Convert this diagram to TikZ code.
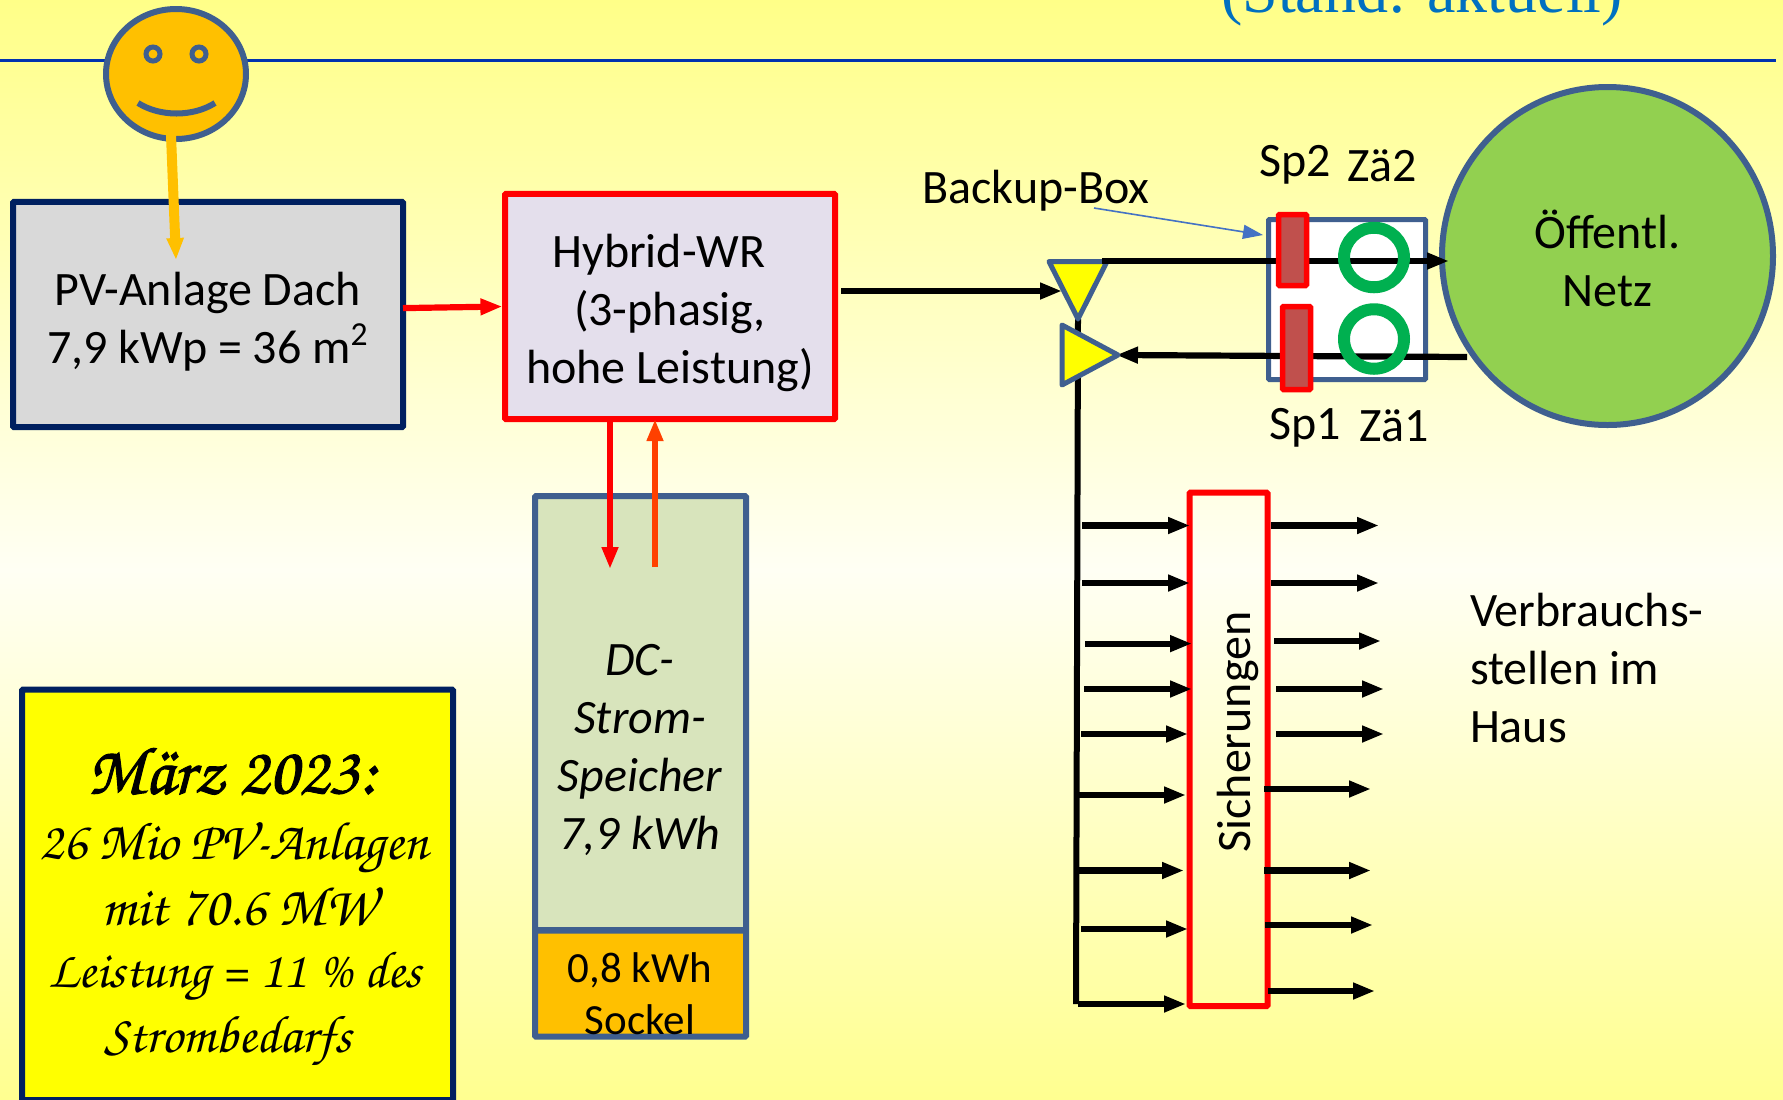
\documentclass[tikz,border=0pt]{standalone}
\usepackage[T1,TU]{fontenc}
\usepackage{fontspec}
\setmainfont{Carlito}
\newfontfamily\titlefont{Liberation Serif}
\usetikzlibrary{arrows.meta,shapes.geometric}
\definecolor{bgtop}{HTML}{FFFF88}
\definecolor{bgmid}{HTML}{FFFFF4}
\definecolor{bgbot}{HTML}{FFFF90}
\definecolor{navy}{HTML}{002060}
\definecolor{steel}{HTML}{3F5F8F}
\definecolor{rulecol}{HTML}{0033B0}
\definecolor{amber}{HTML}{FFC000}
\definecolor{wrfill}{HTML}{E4DFEC}
\definecolor{pvfill}{HTML}{D9D9D9}
\definecolor{dcfill}{HTML}{D8E4BC}
\definecolor{netfill}{HTML}{92D050}
\definecolor{ringcol}{HTML}{00B050}
\definecolor{spfill}{HTML}{C0504D}
\definecolor{titleblue}{HTML}{0070C0}
\definecolor{thinblue}{HTML}{4472C4}
\definecolor{orangered}{HTML}{FF4000}
\definecolor{brightyellow}{HTML}{FFFF00}
\definecolor{pure red}{HTML}{FF0000}
\newcommand{\scriptfnt}{\fontencoding{T1}\fontfamily{pzc}\fontseries{m}\fontshape{it}\selectfont}
\tikzset{
  x=0.5pt,y=-0.5pt,
  lbl/.style={inner sep=0pt,outer sep=0pt,align=center,text=black,font=\fontsize{24}{29}\selectfont},
  lblleft/.style={lbl,align=left},
  boxbase/.style={inner sep=0pt,outer sep=0pt,line width=3pt,rounded corners=0.5pt},
  blackarrow/.style={draw=black,line width=3.1pt,shorten >=-1pt,-{Triangle[length=11pt,width=7.8pt]}},
  redarrow/.style={draw=pure red,line width=3.1pt,-{Triangle[length=11pt,width=7.8pt]}},
  tri/.style={draw=steel,fill=brightyellow,line width=2.5pt,line join=round},
  ring/.style={ellipse,draw=ringcol,line width=6pt,inner sep=0pt,outer sep=0pt,minimum width=30pt,minimum height=29.75pt},
  scripttxt/.style={inner sep=0pt,outer sep=0pt,text=black}
}
\begin{document}
\begin{tikzpicture}
\useasboundingbox (0,0) rectangle (1783,1099);
\begin{scope}
\clip (0,0) rectangle (1783,1099);
\fill[top color=bgtop,bottom color=bgmid] (0,0) rectangle (1783,570);
\fill[top color=bgmid,bottom color=bgbot] (0,570) rectangle (1783,1099);
\node[anchor=base,inner sep=0pt,text=titleblue,font=\fontsize{32}{38}\selectfont\titlefont] (title) at (1422,12) {(Stand: aktuell)};

\coordinate (ruleL) at (0,60.5);
\coordinate (ruleR) at (1776,60.5);
\draw[rulecol,line width=1.4pt] (ruleL) -- (ruleR);

% smiley
\node[ellipse,draw=steel,fill=amber,line width=3pt,inner sep=0pt,outer sep=0pt,minimum width=70pt,minimum height=65pt] (sm) at (176,74) {};
\node[ellipse,draw=steel,line width=2.5pt,inner sep=0pt,outer sep=0pt,minimum width=7pt,minimum height=7pt] (eyeL) at (153,54) {};
\node[ellipse,draw=steel,line width=2.5pt,inner sep=0pt,outer sep=0pt,minimum width=7pt,minimum height=7pt] (eyeR) at (199,54) {};
\coordinate (smileL) at (138,103);
\coordinate (smileR) at (215,103);
\draw[steel,line width=3pt] (smileL) .. controls (160,117) and (193,117) .. (smileR);

% main boxes
\node[boxbase,draw=navy,fill=pvfill,minimum width=195pt,minimum height=112.6pt] (pv) at (208,314.5) {};
\node[lbl] (pvtxt) at (208,322) {PV-Anlage Dach\\7,9 kWp = 36 m\textsuperscript{2}};
\node[boxbase,draw=pure red,fill=wrfill,minimum width=165pt,minimum height=112.6pt] (wr) at (670,306.5) {};
\node[lbl] (wrtxt) at (670,313) {Hybrid-WR\hspace*{11pt}\\(3-phasig,\\hohe Leistung)};

\coordinate (pvtip) at (176,260);
\draw[amber,line width=5pt,-{Triangle[length=11pt,width=8pt]}] ([xshift=-2.5pt,yshift=2pt]sm.south) -- (pvtip);
\draw[redarrow] ([yshift=3.2pt]pv.east) -- ([xshift=-1.3pt]wr.west);

% storage
\node[boxbase,draw=steel,fill=dcfill,minimum width=105.5pt,minimum height=217pt] (dc) at (640.5,713) {};
\node[boxbase,draw=steel,fill=amber,minimum width=105.5pt,minimum height=53pt] (sockel) at (640.5,983.5) {};
\node[lbl,font=\fontsize{24}{29}\selectfont\itshape] (dctxt) at (640,750) {DC-\\Strom-\\Speicher\\7,9 kWh};
\node[lbl,font=\fontsize{21.5}{26}\selectfont] (socktxt) at (640,994) {0,8 kWh\\Sockel};
\coordinate (dcin) at (610,569);
\coordinate (dcout) at (655,567);
\draw[redarrow] ([xshift=-30pt]wr.south) -- (dcin);
\draw[draw=orangered,line width=3.1pt,-{Triangle[length=11pt,width=7.8pt]}] (dcout) -- ([xshift=-7.5pt]wr.south);

% yellow info box
\node[boxbase,draw=navy,fill=brightyellow,minimum width=215.5pt,minimum height=205.2pt] (info) at (237.5,894.8) {};
\node[scripttxt,font=\fontsize{34}{40}\scriptfnt] (i1) at (232,770) {\special{pdf:code 2 Tr 0.5 w}M\"arz 2023:\special{pdf:code 0 Tr 0 w}};
\node[scripttxt,font=\fontsize{27}{32}\scriptfnt] (i2) at (234,849) {26 Mio PV-Anlagen};
\node[scripttxt,font=\fontsize{28}{33}\scriptfnt] (i3) at (238,907) {mit 70.6 MW};
\node[scripttxt,font=\fontsize{26}{31}\scriptfnt] (i4) at (235,977) {Leistung = 11 \% des};
\node[scripttxt,font=\fontsize{26.5}{31}\scriptfnt] (i5) at (228,1042) {Strombedarfs};

% meter box
\node[boxbase,line width=2.5pt,draw=steel,fill=white,minimum width=78.5pt,minimum height=80pt] (bb) at (1347,299.5) {};

% grid
\node[ellipse,draw=steel,fill=netfill,line width=3pt,inner sep=0pt,outer sep=0pt,minimum width=165.5pt,minimum height=169pt] (net) at (1607.5,256) {};
\node[lbl] (nettxt) at (1607.5,258.5) {\"Offentl.\\Netz};

% feed lines
\coordinate (t1L) at (1049,261.5);
\coordinate (t1R) at (1107,261.5);
\coordinate (t1B) at (1078,319);
\coordinate (t2A) at (1062,325);
\coordinate (t2B) at (1062,385);
\coordinate (t2C) at (1118,355);
\coordinate (busT) at (1078,319);
\coordinate (busB) at (1076,1004);
\coordinate (feedIn) at (1060,291);
\coordinate (netOut) at (1467,357);
\coordinate (gridTip) at (1447,261);
\coordinate (gridFrom) at (1102,261);

\draw[black,line width=3pt] (busT) -- (busB);
\draw[blackarrow] ([xshift=3pt,yshift=7.75pt]wr.east) -- (feedIn);
\draw[tri] (t1L) -- (t1R) -- (t1B) -- cycle;
\draw[blackarrow] (gridFrom) -- (gridTip);
\draw[blackarrow] (netOut) -- (t2C);
\draw[tri] (t2A) -- (t2B) -- (t2C) -- cycle;

\node[ring] (z2) at (1374,257.5) {};
\node[ring] (z1) at (1374,339) {};
\node[boxbase,draw=pure red,line width=2.75pt,fill=spfill,minimum width=14pt,minimum height=35.5pt] (sp2) at (1292.5,250) {};
\node[boxbase,draw=pure red,line width=2.75pt,fill=spfill,minimum width=14pt,minimum height=41.5pt] (sp1) at (1296.5,348) {};

\node[lbl] (backup) at (1036,190.5) {Backup-Box};
\coordinate (bbtip) at (1263,235);
\coordinate (bbfrom) at (1094,208);
\draw[thinblue,line width=0.8pt,-{Triangle[length=10pt,width=7pt]}] (bbfrom) -- (bbtip);
\node[lbl] (tsp2) at (1295,165) {Sp2};
\node[lbl] (tz2) at (1382,166) {Zä2};
\node[lbl] (tsp1) at (1305,428) {Sp1};
\node[lbl] (tz1) at (1394,426) {Zä1};

% fuses
\node[boxbase,draw=pure red,minimum width=39pt,minimum height=256.75pt] (fuse) at (1228.5,749.3) {};
\node[lbl,rotate=90] (fusetxt) at (1238,732) {Sicherungen};

\foreach \n/\a/\b/\yy in {1/1082/1188/525.5,2/1082/1188/583,3/1085/1190/643.6,4/1084/1190/689,5/1081/1186/734,6/1078/1184/795,7/1078/1182/870.5,8/1081/1186/929,9/1078/1184/1004}{
  \coordinate (ls\n) at (\a,\yy);
  \coordinate (le\n) at (\b,\yy);
  \draw[blackarrow] (ls\n) -- (le\n);
}
\foreach \n/\a/\b/\yy in {1/1271/1377/525.5,2/1271/1377/583,3/1274/1379/641,4/1276/1382/689,5/1276/1382/734,6/1264/1369/789,7/1264/1369/870.5,8/1265/1371/925,9/1268/1373/991}{
  \coordinate (rs\n) at (\a,\yy);
  \coordinate (re\n) at (\b,\yy);
  \draw[blackarrow] (rs\n) -- (re\n);
}
\node[lblleft,anchor=north west] (cons) at (1470,593) {Verbrauchs-\\stellen im\\Haus};
\end{scope}
\end{tikzpicture}
\end{document}
